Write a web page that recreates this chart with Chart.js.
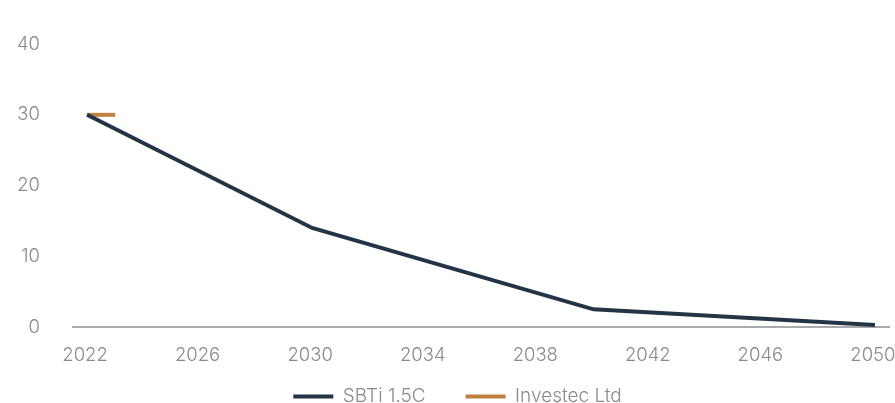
<!DOCTYPE html>
<html>
<head>
<meta charset="utf-8">
<script src="https://cdn.jsdelivr.net/npm/chart.js@4"></script>
<style>
html,body{margin:0;padding:0;background:#fff;}
#wrap{width:895px;height:403px;position:relative;}
</style>
</head>
<body>
<div id="wrap"><canvas id="c"></canvas></div>
<script>
const years = [];
for (let y = 2022; y <= 2050; y++) years.push(String(y));
const sbtiPoints = {"2022": 30, "2030": 14, "2040": 2.5, "2050": 0.3};
const investecPoints = {"2022": 30, "2023": 30};
const yTicks = [0, 10, 20, 30, 40];

const sbti = years.map(y => (y in sbtiPoints) ? sbtiPoints[y] : null);
const investec = years.map(y => (y in investecPoints) ? investecPoints[y] : null);

Chart.defaults.font.family = 'Inter, "Noto Sans", sans-serif';
Chart.defaults.font.size = 18.5;
Chart.defaults.font.weight = 300;
Chart.defaults.color = '#8a8a8a';

// fixed legend height, and a small offset to centre it like the reference
const legendPlugin = Chart.registry.getPlugin('legend');
if (legendPlugin && legendPlugin._element) {
  const L = legendPlugin._element;
  const origFit = L.prototype.fit;
  L.prototype.fit = function() { origFit.call(this); this.height = 58; };
  const origDraw = L.prototype.draw;
  L.prototype.draw = function() {
    this.ctx.save();
    this.ctx.translate(13, 2);
    origDraw.call(this);
    this.ctx.restore();
  };
}

new Chart(document.getElementById('c'), {
  type: 'line',
  data: {
    labels: years,
    datasets: [
      {label: 'SBTi 1.5C', data: sbti, borderColor: '#243447', backgroundColor: '#243447', borderWidth: 4, pointRadius: 0, spanGaps: true, tension: 0},
      {label: 'Investec Ltd', data: investec, borderColor: '#c0803f', backgroundColor: '#c0803f', borderWidth: 4, pointRadius: 0, spanGaps: false, tension: 0}
    ]
  },
  options: {
    responsive: true,
    maintainAspectRatio: false,
    animation: false,
    layout: {padding: {left: 0, right: 6, top: 40, bottom: 0}},
    plugins: {
      legend: {
        position: 'bottom',
        labels: {
          boxWidth: 40, boxHeight: 4, padding: 40, color: '#8a8a8a', font: {size: 19, weight: 300},
          generateLabels: chart => Chart.defaults.plugins.legend.labels.generateLabels(chart)
            .map(l => Object.assign({}, l, {lineWidth: 0}))
        }
      },
      tooltip: {enabled: false}
    },
    scales: {
      x: {
        offset: true,
        afterFit: s => { s.height = 18; s.paddingRight = 0; s.paddingLeft = 0; s._computeLabelArea = () => null; },
        grid: {display: false, drawTicks: false},
        border: {display: true, color: '#aaaaaa', width: 2},
        ticks: {autoSkip: false, maxRotation: 0, padding: 17, labelOffset: -2,
          callback: function(v, i) { const yr = Number(years[i]); return ((yr - 2022) % 4 === 0) ? years[i] : ''; }
        }
      },
      y: {
        min: 0, max: 40,
        afterFit: s => { s.width = 73; },
        afterBuildTicks: s => { s.ticks = yTicks.map(v => ({value: v})); },
        grid: {display: false, drawTicks: false},
        border: {display: false},
        ticks: {padding: 33}
      }
    }
  }
});
</script>
</body>
</html>
